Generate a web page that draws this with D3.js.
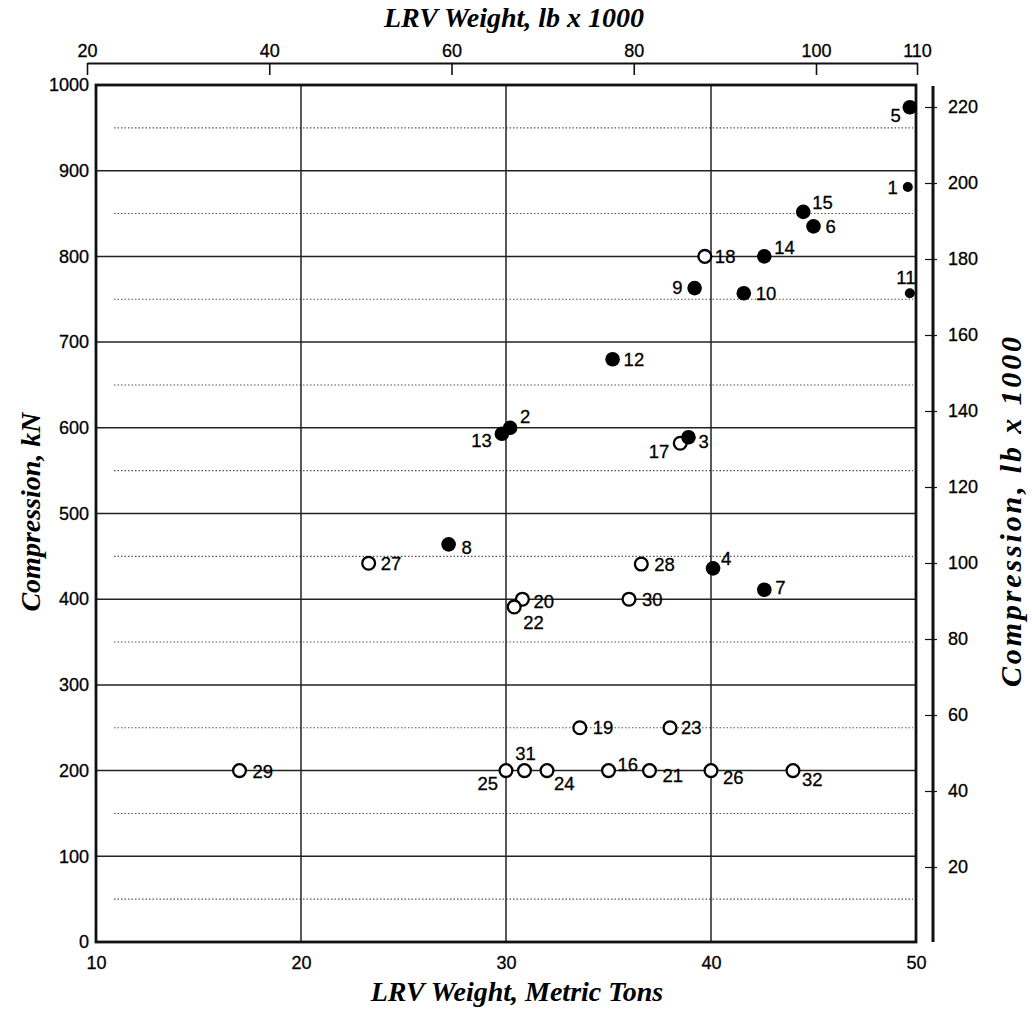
<!DOCTYPE html>
<html>
<head>
<meta charset="utf-8">
<script src="https://cdn.jsdelivr.net/npm/d3@7"></script>
<style>
  body { margin: 0; background: #fff; }
  svg { display: block; }
  .tick-label { font-family: "Liberation Sans", Arial, sans-serif; font-size: 18px; fill: #000; stroke: #000; stroke-width: 0.3; }
  .pt-label { font-family: "Liberation Sans", Arial, sans-serif; font-size: 18.5px; fill: #000; stroke: #000; stroke-width: 0.3; }
  .title { font-family: "Liberation Serif", "Times New Roman", serif; font-style: italic; font-weight: bold; font-size: 28px; fill: #000; }
</style>
</head>
<body>
<svg id="chart" width="1032" height="1011"></svg>
<script>
// vehicle number, weight (metric tons), compression (kN)
const vehicleIds = [1, 2, 3, 4, 5, 6, 7, 8, 9, 10, 11, 12, 13, 14, 15, 16,
  17, 18, 19, 20, 21, 22, 23, 24, 25, 26, 27, 28, 29, 30, 31, 32];
const weightTonnes = [49.6, 30.2, 38.9, 40.1, 49.7, 45.0, 42.6, 27.2, 39.2, 41.6, 49.7, 35.2, 29.8, 42.6, 44.5, 35.0,
  38.5, 39.7, 33.6, 30.8, 37.0, 30.4, 38.0, 32.0, 30.0, 40.0, 23.3, 36.6, 17.0, 36.0, 30.9, 44.0];
const compressionKN = [881, 600, 589, 436, 974, 835, 411, 464, 763, 757, 757, 680, 593, 800, 852, 200,
  582, 800, 250, 400, 200, 391, 250, 200, 200, 200, 442, 441, 200, 400, 200, 200];
const filledIds = [1, 2, 3, 4, 5, 6, 7, 8, 9, 10, 11, 12, 13, 14, 15];

const xTicksTonnes = [10, 20, 30, 40, 50];
const yTicksKN = [0, 100, 200, 300, 400, 500, 600, 700, 800, 900, 1000];
const topTicksLb = [20, 40, 60, 80, 100, 110];
const rightTicksLb = [20, 40, 60, 80, 100, 120, 140, 160, 180, 200, 220];

// small markers and label placement (dx, dy, anchor) relative to each point
const smallDots = [1, 11];
const labelPlace = {
  1: [-10, 0, "end"], 2: [10, -11, "start"], 3: [10, 4, "start"], 4: [8, -10, "start"],
  5: [-9, 8, "end"], 6: [12, 0, "start"], 7: [11, -2, "start"], 8: [13, 3, "start"],
  9: [-12, -1, "end"], 10: [12, 0, "start"], 11: [-4, -16, "middle"], 12: [11, 0, "start"],
  13: [-10, 7, "end"], 14: [10, -9, "start"], 15: [9, -9, "start"], 16: [9, -6, "start"],
  17: [-11, 8, "end"], 18: [10, 0, "start"], 19: [13, 0, "start"], 20: [11, 2, "start"],
  21: [13, 5, "start"], 22: [9, 15, "start"], 23: [11, 0, "start"], 24: [7, 13, "start"],
  25: [-8, 13, "end"], 26: [12, 7, "start"], 27: [12, 0, "start"], 28: [13, 0, "start"],
  29: [13, 1, "start"], 30: [13, 0, "start"], 31: [1, -17, "middle"], 32: [9, 9, "start"]
};

const data = vehicleIds.map((id, i) => ({
  id, t: weightTonnes[i], kn: compressionKN[i], filled: filledIds.includes(id)
}));

const svg = d3.select("#chart");
const P = { left: 96, right: 916, top: 85, bottom: 942 };

const x = d3.scaleLinear().domain([10, 50]).range([P.left, P.right]);
const y = d3.scaleLinear().domain([0, 1000]).range([P.bottom, P.top]);
const xLb = d3.scaleLinear().domain([20, 100, 110]).range([87, 816, 917]);
const yLb = d3.scaleLinear().domain([20, 220]).range([867, 107]);

// dotted half-step lines
svg.append("g").selectAll("line")
  .data(d3.range(50, 1000, 100))
  .join("line")
  .attr("x1", 114).attr("x2", 913)
  .attr("y1", d => y(d)).attr("y2", d => y(d))
  .attr("stroke", "#555").attr("stroke-width", 1.1)
  .attr("stroke-dasharray", "1.5,2");

// solid grid
svg.append("g").selectAll("line")
  .data(yTicksKN.slice(1, -1))
  .join("line")
  .attr("x1", P.left).attr("x2", P.right)
  .attr("y1", d => y(d)).attr("y2", d => y(d))
  .attr("stroke", "#222").attr("stroke-width", 1.5);

svg.append("g").selectAll("line")
  .data(xTicksTonnes.slice(1, -1))
  .join("line")
  .attr("x1", d => x(d)).attr("x2", d => x(d))
  .attr("y1", P.top).attr("y2", P.bottom)
  .attr("stroke", "#222").attr("stroke-width", 1.5);

// frame
svg.append("rect")
  .attr("x", P.left).attr("y", P.top)
  .attr("width", P.right - P.left).attr("height", P.bottom - P.top)
  .attr("fill", "none").attr("stroke", "#111").attr("stroke-width", 2.8);

// bottom axis labels
const bottomAx = svg.append("g").attr("transform", `translate(0,${P.bottom})`)
  .call(d3.axisBottom(x).tickValues(xTicksTonnes).tickSize(0).tickPadding(14).tickFormat(d3.format("d")));
bottomAx.select(".domain").remove();
bottomAx.selectAll("text").attr("class", "tick-label").attr("font-size", null).attr("font-family", null);

// left axis labels
const leftAx = svg.append("g").attr("transform", `translate(${P.left},0)`)
  .call(d3.axisLeft(y).tickValues(yTicksKN).tickSize(0).tickPadding(7).tickFormat(d3.format("d")));
leftAx.select(".domain").remove();
leftAx.selectAll("text").attr("class", "tick-label").attr("font-size", null).attr("font-family", null);

// top axis (lb x 1000)
const topAx = svg.append("g").attr("transform", "translate(0,63)")
  .call(d3.axisBottom(xLb).tickValues(topTicksLb).tickSizeOuter(0).tickSizeInner(12).tickPadding(-31).tickFormat(d3.format("d")));
topAx.select(".domain").attr("stroke", "#111").attr("stroke-width", 2);
topAx.selectAll(".tick line").attr("stroke", "#111").attr("stroke-width", 1.6);
topAx.selectAll("text").attr("class", "tick-label").attr("font-size", null).attr("font-family", null);

// right axis (lb x 1000)
svg.append("line")
  .attr("x1", 933).attr("x2", 933).attr("y1", 86).attr("y2", P.bottom)
  .attr("stroke", "#111").attr("stroke-width", 3);
const rightAx = svg.append("g").attr("transform", "translate(937,0)")
  .call(d3.axisRight(yLb).tickValues(rightTicksLb).tickSizeOuter(0).tickSizeInner(-12).tickPadding(11).tickFormat(d3.format("d")));
rightAx.select(".domain").remove();
rightAx.selectAll(".tick line").attr("stroke", "#111").attr("stroke-width", 1.2);
rightAx.selectAll("text").attr("class", "tick-label").attr("font-size", null).attr("font-family", null);

// titles
svg.append("text").attr("class", "title")
  .attr("x", 514).attr("y", 27).attr("text-anchor", "middle")
  .text("LRV Weight, lb x 1000");
svg.append("text").attr("class", "title")
  .attr("x", 517).attr("y", 1001).attr("text-anchor", "middle")
  .text("LRV Weight, Metric Tons");
svg.append("text").attr("class", "title")
  .attr("transform", "translate(40,512) rotate(-90)").attr("text-anchor", "middle")
  .text("Compression, kN");
svg.append("text").attr("class", "title")
  .attr("transform", "translate(1021,512) rotate(-90)").attr("text-anchor", "middle")
  .style("font-size", "30px")
  .attr("textLength", 350).attr("lengthAdjust", "spacing")
  .text("Compression, lb x 1000");

// points: open first, filled on top
const pts = svg.append("g");
pts.selectAll("circle.open")
  .data(data.filter(d => !d.filled))
  .join("circle").attr("class", "open")
  .attr("cx", d => x(d.t)).attr("cy", d => y(d.kn))
  .attr("r", 6.4)
  .attr("fill", "#fff").attr("stroke", "#000").attr("stroke-width", 2.3);
pts.selectAll("circle.filled")
  .data(data.filter(d => d.filled))
  .join("circle").attr("class", "filled")
  .attr("cx", d => x(d.t)).attr("cy", d => y(d.kn))
  .attr("r", d => smallDots.includes(d.id) ? 5 : 7.3)
  .attr("fill", "#000");

// point labels
svg.append("g").selectAll("text")
  .data(data)
  .join("text").attr("class", "pt-label")
  .attr("x", d => x(d.t) + labelPlace[d.id][0])
  .attr("y", d => y(d.kn) + labelPlace[d.id][1])
  .attr("dy", "0.36em")
  .attr("text-anchor", d => labelPlace[d.id][2])
  .text(d => d.id);
</script>
</body>
</html>
